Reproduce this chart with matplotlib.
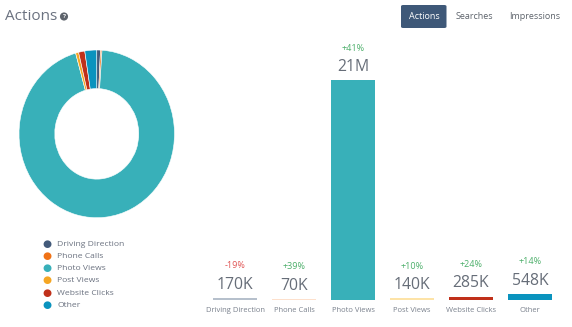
import matplotlib
matplotlib.use("Agg")
import matplotlib.pyplot as plt
from matplotlib.patches import FancyBboxPatch

categories = ["Driving Direction", "Phone Calls", "Photo Views", "Post Views", "Website Clicks", "Other"]
values = [170e3, 70e3, 21e6, 140e3, 285e3, 548e3]
value_labels = ["170K", "70K", "21M", "140K", "285K", "548K"]
changes = ["-19%", "+39%", "+41%", "+10%", "+24%", "+14%"]

pie_colors = ["#435a7a", "#f07216", "#38b0b9", "#f5a623", "#c0301a", "#0a93be"]
bar_colors = ["#b6c0cc", "#fde0cc", "#38b0b9", "#fde3a7", "#c0301a", "#0a93be"]

W, H = 572, 327
fig = plt.figure(figsize=(W / 100, H / 100), dpi=100)
fig.patch.set_facecolor("white")
plt.rcParams['font.family'] = ['Open Sans', 'DejaVu Sans']

def fx(x):
    return x / W

def fy(y):
    return 1 - y / H

def add_axes_px(left, top, right, bottom):
    return fig.add_axes([fx(left), fy(bottom), (right - left) / W, (bottom - top) / H])

text_gray = "#6b7280"

# Title
fig.text(fx(5), fy(16), "Actions", fontsize=11, color=text_gray, va="center", ha="left")
fig.text(fx(64), fy(16.5), "?", fontsize=4.5, color="white", weight="bold", va="center", ha="center",
         bbox=dict(boxstyle="circle,pad=0.25", fc="#5d636b", ec="none"))

# Buttons
btn = FancyBboxPatch((fx(401), fy(28)), (446.5 - 401) / W, 23 / H,
                     boxstyle="round,pad=0,rounding_size=0.004", fc="#3e5878", ec="none",
                     transform=fig.transFigure)
fig.add_artist(btn)
fig.text(fx(424), fy(16.5), "Actions", fontsize=6.5, color="white", ha="center", va="center")
fig.text(fx(474), fy(16.5), "Searches", fontsize=6.5, color="#5d636b", ha="center", va="center")
fig.text(fx(535), fy(16.5), "Impressions", fontsize=6.5, color="#5d636b", ha="center", va="center")

# Donut
axp = add_axes_px(19, 50, 174.5, 217.7)
wedges, _ = axp.pie(values, colors=pie_colors, startangle=90, counterclock=False,
                    wedgeprops=dict(width=0.46, edgecolor="white", linewidth=0.4))
axp.set_aspect("auto")
axp.set_xlim(-1, 1)
axp.set_ylim(-1, 1)
axp.axis("off")

# Legend
for i, (cat, col) in enumerate(zip(categories, pie_colors)):
    y = 244 + i * 12.3
    fig.text(fx(47), fy(y), "\u25cf", fontsize=7.5, color=col, ha="center", va="center")
    fig.text(fx(57), fy(y), cat, fontsize=6.1, color=text_gray, ha="left", va="center")

# Bars
axb = add_axes_px(205.5, 80, 559.5, 299.5)
x = list(range(len(categories)))
bars = axb.bar(x, values, width=0.75, color=bar_colors)
axb.set_xlim(-0.5, len(categories) - 0.5)
axb.set_ylim(0, max(values))
axb.axis("off")
for xi, v, vl, ch in zip(x, values, value_labels, changes):
    axb.annotate(vl, (xi, v), xytext=(0, 9.5), textcoords="offset points",
                 ha="center", va="center", fontsize=11.3, color="#666d78", annotation_clip=False)
    axb.annotate(ch, (xi, v), xytext=(0, 23), textcoords="offset points",
                 ha="center", va="center", fontsize=6.5,
                 color="#e05555" if ch.startswith("-") else "#4caf6a", annotation_clip=False)
    axb.annotate(categories[xi], (xi, 0), xytext=(0, -8), textcoords="offset points",
                 ha="center", va="center", fontsize=5.5, color="#7a818d", annotation_clip=False)

fig.savefig("out.png", dpi=100, facecolor="white")
